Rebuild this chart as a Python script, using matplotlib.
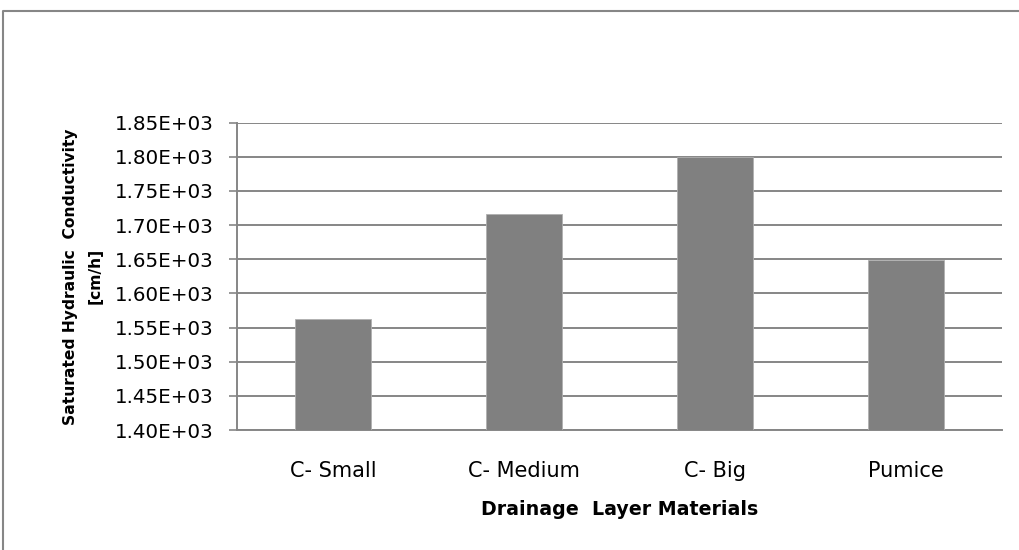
import matplotlib
matplotlib.use("Agg")
import matplotlib.pyplot as plt
from matplotlib.lines import Line2D
from matplotlib.ticker import FuncFormatter, MultipleLocator

# Saturated hydraulic conductivity of drainage layer materials (cm/h)
materials = ["C- Small", "C- Medium", "C- Big", "Pumice"]
conductivity = [1562, 1716, 1800, 1649]

y_min, y_max, y_step = 1400, 1850, 50

plt.rcParams["font.family"] = ["DejaVu Sans"]

GRID = "#868686"
BAR = "#808080"

W, H = 1020, 550
fig = plt.figure(figsize=(W / 100, H / 100), dpi=100)
left, right, top, bottom = 237.3, 1001.5, 122.7, 430.0
ax = fig.add_axes([left / W, 1 - bottom / H, (right - left) / W, (bottom - top) / H])

x = range(len(materials))
ax.bar(x, conductivity, width=0.4, color=BAR, edgecolor="#b0b0b0", linewidth=0.6, zorder=3)

ax.set_xlim(-0.5, len(materials) - 0.5)
ax.set_ylim(y_min, y_max)
ax.yaxis.set_major_locator(MultipleLocator(y_step))
ax.yaxis.set_major_formatter(FuncFormatter(lambda v, _: f"{v:.2E}"))

ax.grid(axis="y", color=GRID, linewidth=1.4, zorder=0)
ax.set_axisbelow(True)

for side in ("top", "right"):
    ax.spines[side].set_visible(False)
for side in ("left", "bottom"):
    ax.spines[side].set_color(GRID)
    ax.spines[side].set_linewidth(1.4)

ax.set_xticks(list(x))
ax.set_xticklabels(materials)
ax.tick_params(axis="x", length=0, pad=22, labelsize=15, labelcolor="black")
ax.tick_params(axis="y", length=6, width=1.2, color=GRID, pad=11, labelsize=14.3, labelcolor="black")

ax.set_xlabel("Drainage  Layer Materials", fontsize=13.7, fontweight="bold", labelpad=14)
ax.set_ylabel("Saturated Hydraulic  Conductivity\n[cm/h]", fontsize=11.2, fontweight="bold",
              linespacing=1.8)
ax.yaxis.set_label_coords((103 - left) / (right - left), 0.5)

# chart area border
fig.add_artist(Line2D([3.5 / W, 3.5 / W, 1.0], [0.0, 1 - 11 / H, 1 - 11 / H],
                      transform=fig.transFigure, color=GRID, linewidth=1.5))

fig.savefig("out.png", dpi=100, facecolor="white")
